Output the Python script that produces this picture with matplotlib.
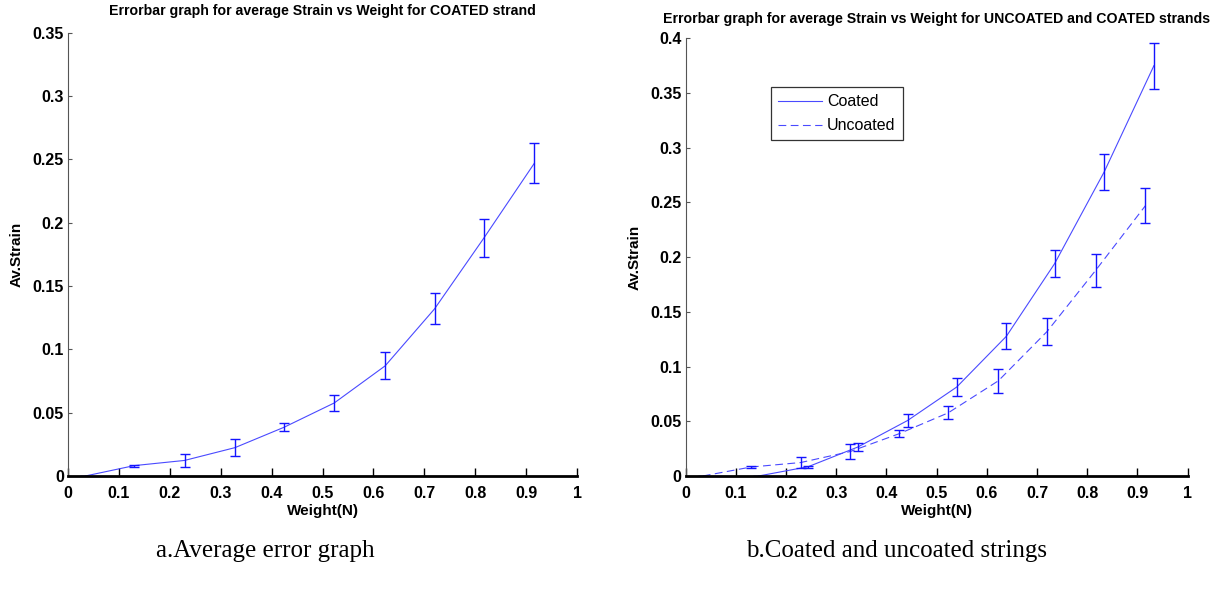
import numpy as np
import matplotlib
matplotlib.use("Agg")
import matplotlib.pyplot as plt

# Weight (N) and average strain, error = half the bar height
w_uncoated = [0.034, 0.13, 0.229, 0.328, 0.425, 0.523, 0.623, 0.72, 0.817, 0.916]
s_uncoated = [0.0, 0.0082, 0.0123, 0.0224, 0.0386, 0.0577, 0.087, 0.132, 0.188, 0.247]
e_uncoated = [0.0, 0.0008, 0.0054, 0.0068, 0.003, 0.006, 0.0107, 0.0123, 0.015, 0.0158]

w_coated = [0.145, 0.244, 0.343, 0.442, 0.54, 0.639, 0.735, 0.834, 0.933]
s_coated = [0.0, 0.0085, 0.0265, 0.0507, 0.0813, 0.1277, 0.194, 0.278, 0.375]
e_coated = [0.0, 0.001, 0.004, 0.0062, 0.008, 0.0117, 0.0125, 0.0164, 0.021]

x_ticks = np.arange(0, 1.01, 0.1)
x_ticklabels = ["0", "0.1", "0.2", "0.3", "0.4", "0.5", "0.6", "0.7", "0.8", "0.9", "1"]
ya_ticks = np.arange(0, 0.351, 0.05)
ya_ticklabels = ["0", "0.05", "0.1", "0.15", "0.2", "0.25", "0.3", "0.35"]
yb_ticks = np.arange(0, 0.401, 0.05)
yb_ticklabels = ["0", "0.05", "0.1", "0.15", "0.2", "0.25", "0.3", "0.35", "0.4"]

plt.rcParams["font.family"] = ["Liberation Sans", "DejaVu Sans"]

line_c = "#4a4aff"
bar_c = "#1414ff"

fig = plt.figure(figsize=(12.18, 5.98), dpi=100)
ax1 = fig.add_axes([0.0558, 0.204, 0.418, 0.741])
ax2 = fig.add_axes([0.563, 0.204, 0.412, 0.732])


def style_axes(ax, yticks, ylabels, ymax, title, title_pad):
    ax.set_xlim(0, 1)
    ax.set_ylim(0, ymax)
    ax.set_xticks(x_ticks)
    ax.set_xticklabels(x_ticklabels)
    ax.set_yticks(yticks)
    ax.set_yticklabels(ylabels)
    ax.spines["top"].set_visible(False)
    ax.spines["right"].set_visible(False)
    ax.spines["bottom"].set_linewidth(2.0)
    ax.spines["left"].set_linewidth(0.8)
    ax.spines["left"].set_color("#555555")
    ax.tick_params(axis="both", direction="in", labelsize=11.5)
    ax.tick_params(axis="x", length=6, width=1.0, pad=7)
    ax.tick_params(axis="y", length=3, width=0.8, color="#555555", pad=3)
    for lab in ax.get_xticklabels() + ax.get_yticklabels():
        lab.set_fontweight("bold")
    ax.set_xlabel("Weight(N)", fontsize=11, fontweight="bold", labelpad=2)
    ax.set_ylabel("Av.Strain", fontsize=11, fontweight="bold", labelpad=6)
    ax.set_title(title, fontsize=10.2, fontweight="bold", pad=title_pad)


# a: single strand series
ax1.plot(w_uncoated, s_uncoated, color=line_c, lw=0.8)
ax1.errorbar(w_uncoated, s_uncoated, yerr=e_uncoated, fmt="none",
             ecolor=bar_c, elinewidth=1.0, capsize=3.3, capthick=1.0)
style_axes(ax1, ya_ticks, ya_ticklabels, 0.35,
           "Errorbar graph for average Strain vs Weight for COATED strand", 13)

# b: coated vs uncoated
ax2.plot(w_coated, s_coated, color=line_c, lw=0.8, label="Coated")
ax2.plot(w_uncoated, s_uncoated, color=line_c, lw=0.8, ls=(0, (7, 4)), label="Uncoated")
ax2.errorbar(w_coated, s_coated, yerr=e_coated, fmt="none",
             ecolor=bar_c, elinewidth=1.0, capsize=3.3, capthick=1.0)
ax2.errorbar(w_uncoated, s_uncoated, yerr=e_uncoated, fmt="none",
             ecolor=bar_c, elinewidth=1.0, capsize=3.3, capthick=1.0)
style_axes(ax2, yb_ticks, yb_ticklabels, 0.4,
           "Errorbar graph for average Strain vs Weight for UNCOATED and COATED strands", 11)

leg = ax2.legend(loc="upper left", bbox_to_anchor=(0.169, 0.888), fontsize=11.5,
                 fancybox=False, framealpha=1, edgecolor="#333333",
                 handlelength=2.8, handletextpad=0.3, borderpad=0.45,
                 labelspacing=0.55, borderaxespad=0)
leg.get_frame().set_linewidth(0.9)

# captions under each panel
fig.text(0.218, 0.079, "a.Average error graph", family="Liberation Serif",
         fontsize=18, ha="center", va="center")
fig.text(0.736, 0.079, "b.Coated and uncoated strings", family="Liberation Serif",
         fontsize=18, ha="center", va="center")

fig.savefig("out.png", dpi=100)
